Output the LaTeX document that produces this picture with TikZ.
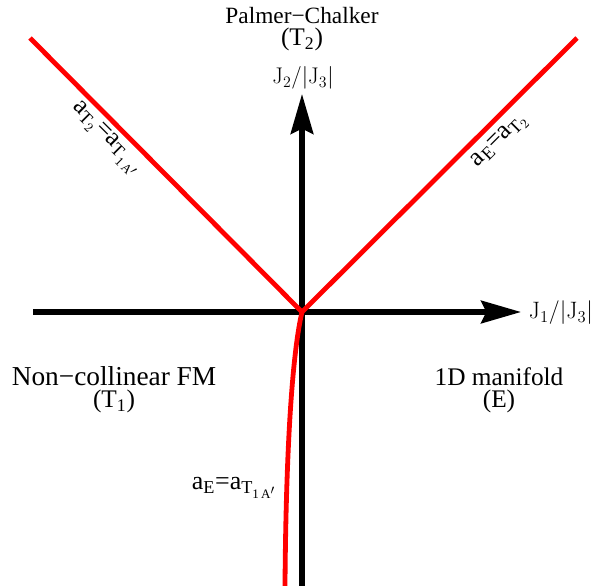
\documentclass[tikz,border=0pt]{standalone}
\usepackage{amsmath}
\usepackage{fontspec}
\setmainfont{Liberation Serif}
\newfontfamily\lmr{Latin Modern Roman}
\usetikzlibrary{arrows.meta}
\newcommand{\sbt}[1]{$_{\text{#1}}$}
\newcommand{\lmJ}[1]{J$_{\text{\lmr #1}}$}
\newcommand{\fs}[1]{\fontsize{#1}{16.5}\selectfont}
\begin{document}
\begin{tikzpicture}[x=0.75pt,y=-0.75pt,
  axis/.style={line width=3.8pt,draw=black,-{Stealth[length=30pt,width=17pt,inset=4pt]}},
  boundary/.style={line width=3.6pt,draw=red},
  lbl/.style={align=center,inner sep=1pt,font=\fs{19}},
  blbl/.style={font=\fs{19.5},inner sep=0pt},
  jlbl/.style={font=\lmr\fs{17},inner sep=0pt}]
\useasboundingbox (0,0) rectangle (597,586);
\coordinate (O) at (302,312);
\coordinate (xl) at (33,312);
\coordinate (xr) at (521,312);
\coordinate (yb) at (302,586);
\coordinate (yt) at (302,94);
\coordinate (ul) at (30,38);
\coordinate (ur) at (577,38);
\coordinate (db) at (285,586);
\draw[axis] (xl) -- (xr);
\draw[axis] (yb) -- (yt);
\draw[boundary] (ul) -- (O) -- (ur);
\draw[boundary] (O) .. controls (293,350) and (286,440) .. (db);
\node[lbl] (pc) at (302,29) {{\fs{17.5}Palmer−Chalker}\\(T\sbt{2})};
\node[jlbl] (j2) at (303,78) {\lmJ{2}/|\lmJ{3}|};
\node[jlbl,font=\lmr\fs{17.8}] (j1) at (561,313) {\lmJ{1}/|\lmJ{3}|};
\node[lbl] (nc) at (114,390) {{\fs{20.5}Non−collinear FM}\\(T\sbt{1})};
\node[lbl] (md) at (499,390) {1D manifold\\(E)};
\node[blbl] (l1) at (234,488) {a\sbt{E}=a$_{\text{T}_{\text{1\,A}'}}$};
\node[blbl,rotate=-45] (l2) at (106,139) {a$_{\text{T}_2}$=a$_{\text{T}_{\text{1\,A}'}}$};
\node[blbl,rotate=45] (l3) at (500,141) {a\sbt{E}=a$_{\text{T}_2}$};
\end{tikzpicture}
\end{document}
